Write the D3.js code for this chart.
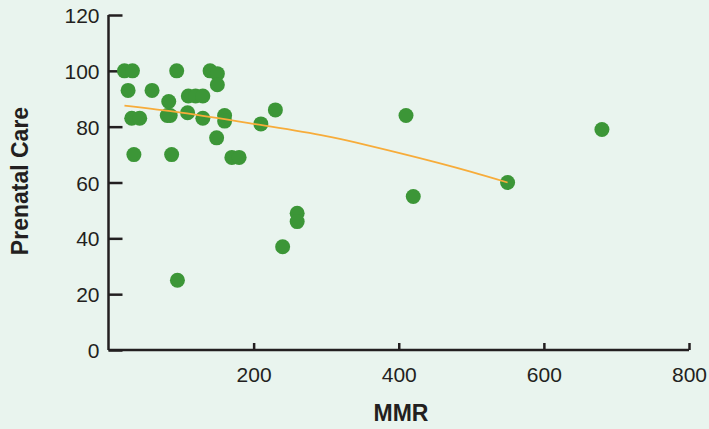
<!DOCTYPE html>
<html>
<head>
<meta charset="utf-8">
<script src="https://cdn.jsdelivr.net/npm/d3@7/dist/d3.min.js"></script>
<style>
  html, body { margin: 0; padding: 0; background: #e9f4ee; }
  svg { display: block; }
  .tick text { font-family: "Liberation Sans", Arial, sans-serif; font-size: 21px; fill: #231f20; }
  .axis-title { font-family: "Liberation Sans", Arial, sans-serif; font-size: 23px; font-weight: bold; fill: #231f20; }
</style>
</head>
<body>
<div id="chart"></div>
<script>

// Data
var mmr      = [22, 33, 94, 140, 150, 150, 27, 60, 83, 110, 120, 130, 32, 43, 81, 85, 109, 130, 160, 160, 149, 210, 230, 35, 87, 170, 180, 95, 240, 260, 260, 410, 420, 550, 680];
var prenatal = [100, 100, 100, 100, 99, 95, 93, 93, 89, 91, 91, 91, 83, 83, 84, 84, 85, 83, 84, 82, 76, 81, 86, 70, 70, 69, 69, 25, 37, 49, 46, 84, 55, 60, 79];

// Trend line
var trendX = [22, 100, 200, 300, 400, 500, 550];
var trendY = [87.5, 85, 81, 76.6, 70.6, 63.8, 60];

var xTicks = [200, 400, 600, 800];
var yTicks = [0, 20, 40, 60, 80, 100, 120];

// Settings
var width = 709, height = 429;
var margin = { left: 108.5, right: 20, top: 15, bottom: 79 };

var svg = d3.select('#chart').append('svg')
    .attr('width', width)
    .attr('height', height);

var x = d3.scaleLinear().domain([0, 800]).range([margin.left, 689]);
var y = d3.scaleLinear().domain([0, 120]).range([350, margin.top]);

// x axis (ticks point inward)
var xAxis = svg.append('g')
    .attr('transform', 'translate(0,' + y(0) + ')')
    .call(d3.axisBottom(x).tickValues(xTicks).tickSize(-7).tickPadding(17));
xAxis.select('.domain').attr('d', 'M' + x(0) + ',0H' + x(800));

// y axis (ticks point inward)
var yAxis = svg.append('g')
    .attr('transform', 'translate(' + x(0) + ',0)')
    .call(d3.axisLeft(y).tickValues(yTicks).tickSize(-14).tickPadding(9));
yAxis.select('.domain').attr('d', 'M0,' + y(120) + 'V' + y(0));
yAxis.selectAll('.tick text').attr('dy', '0.36em');

svg.selectAll('.domain, .tick line')
    .attr('stroke', '#231f20')
    .attr('stroke-width', 2.5);

// Axis titles
svg.append('text')
    .attr('class', 'axis-title')
    .attr('x', 401)
    .attr('y', 421)
    .attr('text-anchor', 'middle')
    .text('MMR');

svg.append('text')
    .attr('class', 'axis-title')
    .attr('transform', 'translate(28,181) rotate(-90)')
    .attr('text-anchor', 'middle')
    .text('Prenatal Care');

// Points
svg.append('g').selectAll('circle')
    .data(mmr.map(function(d, i){ return { x: d, y: prenatal[i] }; }))
    .enter().append('circle')
    .attr('cx', function(d){ return x(d.x); })
    .attr('cy', function(d){ return y(d.y); })
    .attr('r', 7.5)
    .attr('fill', '#3c9637');

// Trend line
var line = d3.line()
    .x(function(d){ return x(d[0]); })
    .y(function(d){ return y(d[1]); })
    .curve(d3.curveMonotoneX);

svg.append('path')
    .datum(trendX.map(function(d, i){ return [d, trendY[i]]; }))
    .attr('d', line)
    .attr('fill', 'none')
    .attr('stroke', '#f7ac3a')
    .attr('stroke-width', 1.8);

</script>
</body>
</html>
